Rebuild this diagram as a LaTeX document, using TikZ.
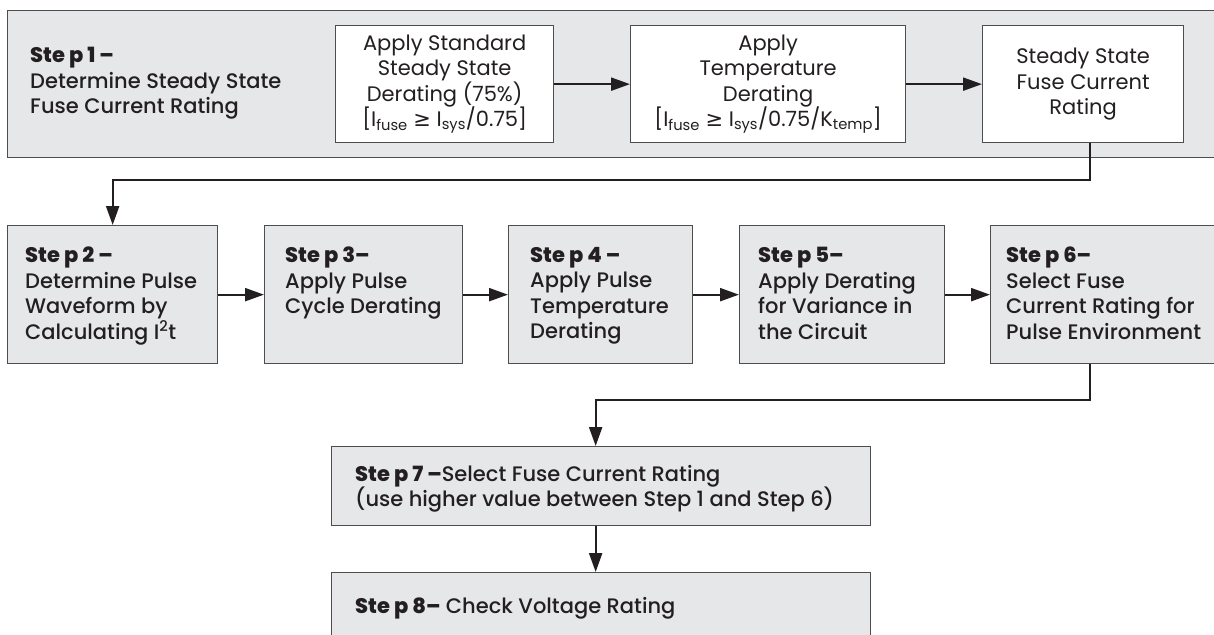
\documentclass[tikz,border=0pt]{standalone}
\usepackage{fontspec}
\setmainfont{Poppins}
\newfontfamily\medfont{Poppins}[UprightFont=* Medium, BoldFont=* ExtraBold]
\newfontfamily\symfont{DejaVu Sans}
\usetikzlibrary{arrows.meta}
\definecolor{boxfill}{HTML}{E6E7E8}
\definecolor{boxline}{HTML}{4D4D4F}
\definecolor{ink}{HTML}{231F20}
\newcommand{\mygeq}{{\symfont\char"2265}}
\newcommand{\bodyfont}{\fontsize{21}{25.5}\selectfont}
\tikzset{
  gbox/.style={draw=boxline, fill=boxfill, line width=1.3pt, inner sep=0pt, anchor=north west},
  wbox/.style={draw=boxline, fill=white, line width=1.3pt, inner sep=0pt, anchor=north west,
               align=center, text=ink, font=\bodyfont},
  conn/.style={draw=ink, line width=2.2pt, -{Triangle[length=19pt,width=13pt]}},
  txt/.style={anchor=north west, inner sep=0pt, align=left, text=ink, font=\medfont\bodyfont},
}
\begin{document}
\begin{tikzpicture}[x=1pt,y=-1pt]
\useasboundingbox (0,0) rectangle (1214,634);
\clip (0,0) rectangle (1214,634);
\fill[white] (0,0) rectangle (1214,634);

% Step 1 frame
\node[gbox, minimum width=1215pt, minimum height=147pt] (s1) at (7,10) {};
\node[txt] (s1t) at (30,47) {\textbf{Ste p 1 –}\\Determine Steady State\\Fuse Current Rating};

\node[wbox, minimum width=218pt, minimum height=117pt] (A) at (335,25)
  {Apply Standard\\Steady State\\Derating (75\%)\\{[}I\textsubscript{fuse} \mygeq{} I\textsubscript{sys}/0.75{]}};
\node[wbox, minimum width=275pt, minimum height=117pt] (B) at (630,25)
  {Apply\\Temperature\\Derating\\{[}I\textsubscript{fuse} \mygeq{} I\textsubscript{sys}/0.75/K\textsubscript{temp}{]}};
\node[wbox, minimum width=201pt, minimum height=117pt] (C) at (982,25)
  {Steady State\\Fuse Current\\Rating};

% Row 2
\node[gbox, minimum width=210pt, minimum height=138pt] (s2) at (7,225) {};
\node[gbox, minimum width=198pt, minimum height=138pt] (s3) at (264,225) {};
\node[gbox, minimum width=184pt, minimum height=138pt] (s4) at (508,225) {};
\node[gbox, minimum width=205pt, minimum height=138pt] (s5) at (739,225) {};
\node[gbox, minimum width=240pt, minimum height=138pt] (s6) at (990,225) {};

\node[txt] (s2t) at ([shift={(18,22)}]s2.north west) {\textbf{Ste p 2 –}\\Determine Pulse\\Waveform by\\Calculating I\textsuperscript{2}t};
\node[txt] (s3t) at ([shift={(21,22)}]s3.north west) {\textbf{Ste p 3–}\\Apply Pulse\\Cycle Derating};
\node[txt] (s4t) at ([shift={(22,22)}]s4.north west) {\textbf{Ste p 4 –}\\Apply Pulse\\Temperature\\Derating};
\node[txt] (s5t) at ([shift={(19,22)}]s5.north west) {\textbf{Ste p 5–}\\Apply Derating\\for Variance in\\the Circuit};
\node[txt] (s6t) at ([shift={(16,22)}]s6.north west) {\textbf{Ste p 6–}\\Select Fuse\\Current Rating for\\Pulse Environment};

% Bottom
\node[gbox, minimum width=539pt, minimum height=79pt] (s7) at (331,446) {};
\node[txt] (s7t) at ([shift={(24,19)}]s7.north west) {\textbf{Ste p 7 –}Select Fuse Current Rating\\(use higher value between Step 1 and Step 6)};
\node[gbox, minimum width=539pt, minimum height=80pt] (s8) at (331,572) {};
\node[txt] (s8t) at ([shift={(24,25)}]s8.north west) {\textbf{Ste p 8–} Check Voltage Rating};

% connectors
\coordinate (j1) at (0,180);
\coordinate (j2) at (0,400);
\coordinate (c1) at ([xshift=6.5pt]C.south);
\coordinate (c6) at ([xshift=-21pt]s6.south);
\coordinate (c7in) at ([xshift=-5.5pt]s7.north);
\coordinate (c7out) at ([xshift=-5.5pt]s7.south);
\coordinate (c8in) at ([xshift=-5.5pt]s8.north);
\draw[conn] (A.east) -- (B.west);
\draw[conn] (B.east) -- (C.west);
\draw[conn] (c1) |- (j1 -| s2.north) -- (s2.north);
\draw[conn] (s2.east) -- (s3.west);
\draw[conn] (s3.east) -- (s4.west);
\draw[conn] (s4.east) -- (s5.west);
\draw[conn] (s5.east) -- (s6.west);
\draw[conn] (c6) |- (j2 -| c7in) -- (c7in);
\draw[conn] (c7out) -- (c8in);
\end{tikzpicture}
\end{document}
